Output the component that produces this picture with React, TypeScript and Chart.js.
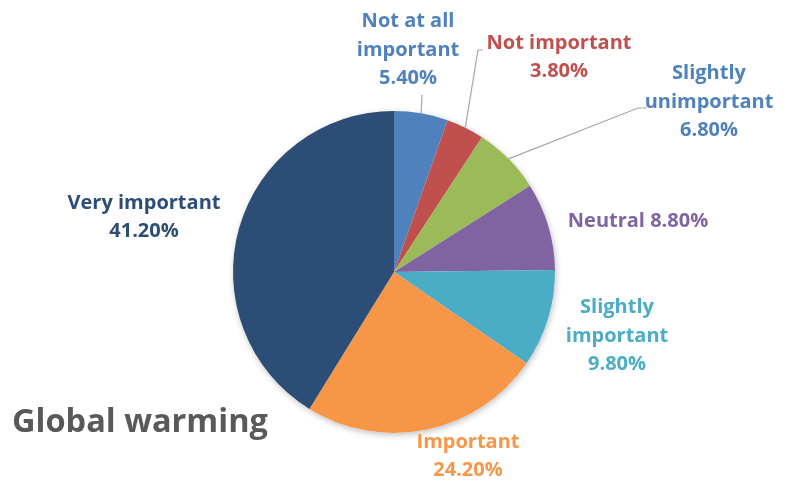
import React, { useEffect, useRef } from "react";
import { Chart, registerables } from "chart.js";

Chart.register(...registerables);

// ---- data ----
const categories = [
  "Not at all important",
  "Not important",
  "Slightly unimportant",
  "Neutral",
  "Slightly important",
  "Important",
  "Very important",
];
const values = [5.4, 3.8, 6.8, 8.8, 9.8, 24.2, 41.2];
const valueLabels = ["5.40%", "3.80%", "6.80%", "8.80%", "9.80%", "24.20%", "41.20%"];
const labelLines = [
  ["Not at all", "important"],
  ["Not important"],
  ["Slightly", "unimportant"],
  ["Neutral"],
  ["Slightly", "important"],
  ["Important"],
  ["Very important"],
];
const inlineValue = [false, false, false, true, false, false, false];
const chartTitle = "Global warming";

// ---- styles ----
const sliceColors = ["#4F81BD", "#C0504D", "#9BBB59", "#8064A2", "#4BACC6", "#F79646", "#2C4D75"];
const textColors = ["#4F81BD", "#C0504D", "#4F81BD", "#8064A2", "#4BACC6", "#F79646", "#2C4D75"];
// label block centre offsets relative to pie centre
const labelOffsets: [number, number][] = [
  [14, -222],
  [165, -214.5],
  [315, -170],
  [244, -51],
  [223, 64],
  [74, 184.5],
  [-250, -54.5],
];
// leader line points (relative to pie centre), starting from slice mid-point on the rim
const leaderPoints: [number, number][][] = [
  [[28, -177]],
  [[84, -222], [89, -222]],
  [[244, -164], [253, -164]],
  [],
  [],
  [],
  [],
];
const FONT = "'Open Sans', sans-serif";
const LINE_H = 28.5;

const labelPlugin = {
  id: "customLabels",
  beforeDatasetsDraw(chart: any) {
    const ctx = chart.ctx;
    ctx.save();
    ctx.shadowColor = "rgba(0,0,0,0.25)";
    ctx.shadowBlur = 6;
    ctx.shadowOffsetX = 1;
    ctx.shadowOffsetY = 2;
    const meta = chart.getDatasetMeta(0);
    const a0 = meta.data[0];
    ctx.beginPath();
    ctx.arc(a0.x, a0.y, a0.outerRadius, 0, Math.PI * 2);
    ctx.fillStyle = "#ffffff";
    ctx.fill();
    ctx.restore();
  },
  afterDatasetsDraw(chart: any) {
    const ctx = chart.ctx;
    const meta = chart.getDatasetMeta(0);
    ctx.save();
    meta.data.forEach((arc: any, i: number) => {
      const cx = arc.x;
      const cy = arc.y;
      const mid = (arc.startAngle + arc.endAngle) / 2;
      const pts = leaderPoints[i];
      if (pts.length) {
        ctx.beginPath();
        ctx.strokeStyle = "#A6A6A6";
        ctx.lineWidth = 1.2;
        ctx.moveTo(cx + Math.cos(mid) * arc.outerRadius, cy + Math.sin(mid) * arc.outerRadius);
        pts.forEach(([dx, dy]) => ctx.lineTo(cx + dx, cy + dy));
        ctx.stroke();
      }
      const lines = labelLines[i].slice();
      if (inlineValue[i]) lines[lines.length - 1] = lines[lines.length - 1] + " " + valueLabels[i];
      else lines.push(valueLabels[i]);
      const [ox, oy] = labelOffsets[i];
      const x = cx + ox;
      const top = cy + oy - ((lines.length - 1) * LINE_H) / 2;
      ctx.font = `bold 20px ${FONT}`;
      ctx.fillStyle = textColors[i];
      ctx.textAlign = "center";
      ctx.textBaseline = "middle";
      lines.forEach((t, k) => ctx.fillText(t, x, top + k * LINE_H));
    });
    ctx.font = `bold 32.5px ${FONT}`;
    ctx.fillStyle = "#595959";
    ctx.textAlign = "left";
    ctx.textBaseline = "alphabetic";
    ctx.fillText(chartTitle, 12, 432);
    ctx.restore();
  },
};

export default function App() {
  const ref = useRef<HTMLCanvasElement | null>(null);
  useEffect(() => {
    if (!ref.current) return;
    const chart = new Chart(ref.current, {
      type: "pie",
      data: {
        labels: categories,
        datasets: [
          {
            data: values,
            backgroundColor: sliceColors,
            borderWidth: 0,
            hoverOffset: 0,
          },
        ],
      },
      options: {
        responsive: false,
        animation: false,
        radius: 161,
        layout: { padding: { left: 0, right: 3, top: 62, bottom: 0 } },
        plugins: {
          legend: { display: false },
          tooltip: { enabled: false },
        },
      } as any,
      plugins: [labelPlugin],
    });
    return () => chart.destroy();
  }, []);
  return (
    <div style={{ position: "fixed", left: 0, top: 0, width: 791, height: 482, background: "#fff" }}>
      <canvas ref={ref} width={791} height={482} style={{ width: 791, height: 482 }} />
    </div>
  );
}
